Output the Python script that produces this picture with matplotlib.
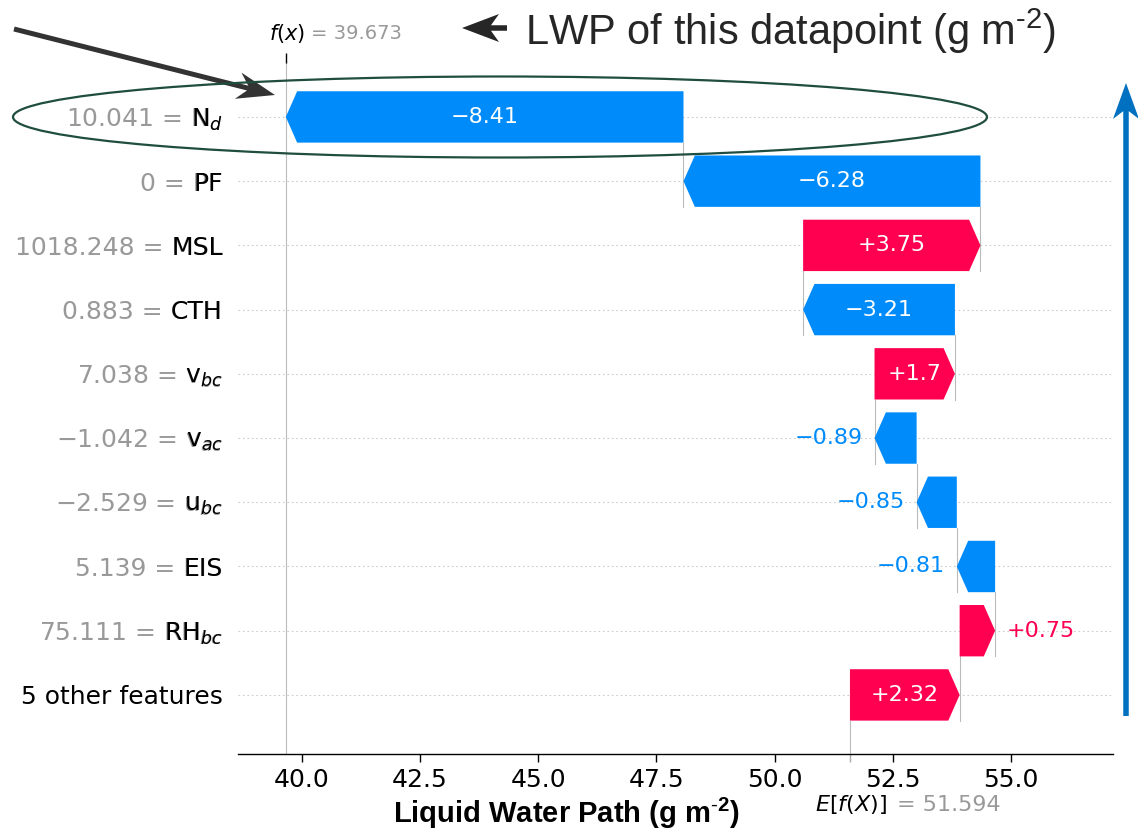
import numpy as np
import matplotlib
matplotlib.use("Agg")
import matplotlib.pyplot as plt
import matplotlib.transforms as mtransforms
from matplotlib.patches import Polygon, Ellipse

W, H = 1138, 831

# waterfall data, top row first
features = ["N$_d$", "PF", "MSL", "CTH", "v$_{bc}$", "v$_{ac}$", "u$_{bc}$",
            "EIS", "RH$_{bc}$", "5 other features"]
feature_values = ["10.041", "0", "1018.248", "0.883", "7.038", "\u22121.042",
                  "\u22122.529", "5.139", "75.111", None]
shap_values = [-8.41, -6.28, 3.75, -3.21, 1.7, -0.89, -0.85, -0.81, 0.75, 2.32]
base_value = 51.594
fx_value = 39.673
xticks = [40.0, 42.5, 45.0, 47.5, 50.0, 52.5, 55.0]

red = "#ff0051"
blue = "#008bfb"

plt.rcParams["font.family"] = "DejaVu Sans"
plt.rcParams["mathtext.fontset"] = "dejavusans"
plt.rcParams["mathtext.rm"] = "Liberation Sans"
plt.rcParams["mathtext.it"] = "Liberation Sans:italic"
plt.rcParams["mathtext.bf"] = "Liberation Sans:bold"


def fmt(v):
    s = ("%.2f" % abs(v)).rstrip("0").rstrip(".")
    return ("+" if v > 0 else "\u2212") + s


def fig_xy(x, y):
    return (x / W, 1 - y / H)


def stealth_arrow(fig, tail, tip, shaft_w, head_len, head_half, notch, color):
    # arrow outline in pixel coords (y down), drawn in figure fraction
    x0, y0 = tail
    x1, y1 = tip
    d = np.hypot(x1 - x0, y1 - y0)
    ux, uy = (x1 - x0) / d, (y1 - y0) / d
    nx, ny = -uy, ux
    hw = shaft_w / 2.0
    bx, by = x1 - head_len * ux, y1 - head_len * uy
    cx, cy = x1 - notch * ux, y1 - notch * uy
    t = 1 - hw / head_half
    sides = []
    for s in (1, -1):
        barb = (bx + s * head_half * nx, by + s * head_half * ny)
        neck = (barb[0] + t * (cx - barb[0]), barb[1] + t * (cy - barb[1]))
        sides.append(((x0 + s * hw * nx, y0 + s * hw * ny), neck, barb))
    outline = [sides[0][0], sides[0][1], sides[0][2], (x1, y1),
               sides[1][2], sides[1][1], sides[1][0]]
    poly = Polygon([fig_xy(px, py) for px, py in outline], closed=True,
                   facecolor=color, edgecolor="none", transform=fig.transFigure)
    fig.add_artist(poly)


fig = plt.figure(figsize=(W / 100, H / 100), dpi=100)
ax = fig.add_axes([238 / W, 1 - 754 / H, (1113 - 238) / W, (754 - 63) / H])

n = len(features)
ypos = [n - 1 - i for i in range(n)]
ax.set_xlim(38.653, 57.157)
ax.set_ylim(-0.92, 9.84)

for y in ypos:
    ax.axhline(y, color="#cccccc", lw=0.8, dashes=(1.5, 2.5), zorder=-2)

# walk up from the base value, bottom row first
hl = 0.24
start = base_value
for i in reversed(range(n)):
    v = shap_values[i]
    y = ypos[i]
    end = start + v
    col = red if v > 0 else blue
    ax.arrow(start, y, v, 0, width=0.8, head_width=0.8, head_length=min(hl, abs(v)),
             length_includes_head=True, color=col, lw=0, zorder=2)
    if abs(v) >= 1:
        ax.text(start + v / 2, y, fmt(v), ha="center", va="center",
                color="white", fontsize=16, zorder=3)
    else:
        ax.annotate(fmt(v), (end, y), xytext=(8.5 if v > 0 else -8.5, 0),
                    textcoords="offset points", ha="left" if v > 0 else "right",
                    va="center", color=col, fontsize=16, zorder=3)
    if i > 0:
        ax.plot([end, end], [y - 0.4, y + 0.6], color="#bbbbbb", lw=0.8, zorder=1)
    start = end

ax.axvline(fx_value, color="#bbbbbb", lw=0.8, zorder=-1)
ax.plot([base_value, base_value], [-0.92, ypos[-1] - 0.4], color="#bbbbbb", lw=0.8,
        zorder=-1, clip_on=False)

# grey "value = name" with the name laid over in black
tick_pos, tick_lab, tick_col = [], [], []
for i in range(n):
    if feature_values[i] is None:
        tick_pos.append(ypos[i]); tick_lab.append(features[i]); tick_col.append("black")
    else:
        tick_pos.append(ypos[i]); tick_lab.append(feature_values[i] + " = " + features[i])
        tick_col.append("#999999")
        tick_pos.append(ypos[i] + 1e-8); tick_lab.append(features[i]); tick_col.append("black")
ax.set_yticks(tick_pos, tick_lab, fontsize=18)
for lab, c in zip(ax.get_yticklabels(), tick_col):
    lab.set_color(c)
ax.tick_params(axis="y", length=0, pad=11)

ax.set_xticks(xticks, ["%.1f" % t for t in xticks], fontsize=18)
ax.set_xticks([base_value], minor=True)
ax.tick_params(axis="x", which="major", length=6, width=1, pad=4)
ax.tick_params(axis="x", which="minor", length=6, width=1, color="#aaaaaa")
for s in ("top", "right", "left"):
    ax.spines[s].set_visible(False)
ax.spines["bottom"].set_linewidth(1.0)

# f(x) tick on top
ax3 = ax.twiny()
ax3.set_xlim(ax.get_xlim())
ax3.set_xticks([fx_value], [""])
ax3.tick_params(axis="x", length=7, width=1)
for s in ax3.spines.values():
    s.set_visible(False)

trans = mtransforms.blended_transform_factory(ax.transData, ax.transAxes)
ax.annotate("$f(x)$", (fx_value, 1), xycoords=trans, xytext=(13.7, 21),
            textcoords="offset points", ha="right", va="center", fontsize=15)
ax.annotate("= %.3f" % fx_value, (fx_value, 1), xycoords=trans, xytext=(18, 21),
            textcoords="offset points", ha="left", va="center", fontsize=14,
            color="#999999")
ax.annotate("$E[f(X)]$", (base_value, 0), xycoords=trans, xytext=(26.6, -36.7),
            textcoords="offset points", ha="right", va="center", fontsize=16)
ax.annotate("= %.3f" % base_value, (base_value, 0), xycoords=trans, xytext=(33.8, -36.7),
            textcoords="offset points", ha="left", va="center", fontsize=16,
            color="#999999")

fig.text(566 / W, 1 - 823 / H, r"Liquid Water Path (g m$^{\mathbf{\text{-}2}}$)",
         ha="center", va="baseline", fontsize=21, fontweight="bold",
         family="Liberation Sans", math_fontfamily="custom")

# callouts
fig.text(525 / W, 1 - 45 / H, r"LWP of this datapoint (g m$^{\text{-}2}$)", ha="left",
         va="baseline", fontsize=30, family="Liberation Sans", color="#262626",
         math_fontfamily="custom")
stealth_arrow(fig, (507, 28), (462, 28), 5.5, 37, 14, 27, "#262626")
stealth_arrow(fig, (14, 29), (275, 95), 5.0, 38, 13.5, 26, "#333333")
stealth_arrow(fig, (1126, 716), (1126, 83), 5.5, 36, 13, 26, "#0070c0")
fig.add_artist(Ellipse(fig_xy(500, 117), 974 / W, 81 / H, fill=False,
                       edgecolor="#1f4d3f", lw=1.6, transform=fig.transFigure))

fig.savefig("out.png", dpi=100)
